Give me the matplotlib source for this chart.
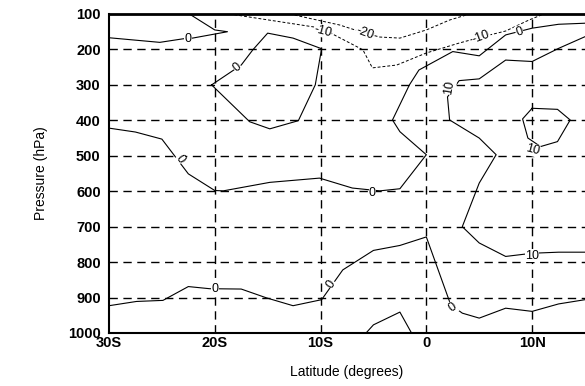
import matplotlib
matplotlib.use("Agg")
import matplotlib.pyplot as plt

plt.rcParams['font.family'] = ['Liberation Sans', 'DejaVu Sans']

lat_ticks = [-30, -20, -10, 0, 10]
lat_labels = ['30S', '20S', '10S', '0', '10N']
p_ticks = [100, 200, 300, 400, 500, 600, 700, 800, 900, 1000]

# contour lines: (latitude, pressure)
zero_top_lat = [-30.0, -25.2, -23.0, -22.1, -18.8, -20.0, -22.4]
zero_top_p = [167, 180, 170, 168, 150, 145, 100]

zero_loop_lat = [-20.3, -17.5, -16.4, -15.0, -12.6, -9.9, -10.5, -12.1, -14.8, -16.7, -20.3]
zero_loop_p = [300, 244, 201, 154, 168, 198, 300, 401, 424, 404, 300]

zero_mid_lat = [-30.0, -27.5, -25.0, -22.5, -20.0, -19.2, -14.8, -10.1, -7.0, -4.4, -2.5, 0.0,
                -2.5, -3.2, -1.6, -0.7, 2.5, 5.0, 7.5, 10.0, 12.5, 15.0]
zero_mid_p = [422, 433, 453, 551, 598, 599, 575, 563, 591, 599, 593, 497,
              432, 399, 300, 258, 206, 218, 159, 140, 129, 126]

zero_low_lat = [-30.0, -27.4, -24.9, -22.5, -20.5, -17.5, -15.1, -12.6, -9.9, -7.9, -5.0, -2.5, 0.0,
                2.3, 3.4, 5.0, 7.5, 10.0, 12.5, 15.0]
zero_low_p = [923, 911, 908, 869, 875, 876, 901, 923, 906, 822, 767, 753, 729,
              920, 944, 958, 930, 939, 918, 906]

zero_bump_lat = [-5.7, -5.0, -2.5, -1.4]
zero_bump_p = [1000, 977, 941, 1000]

ten_lat = [15.0, 12.5, 10.0, 7.5, 5.0, 3.1, 2.0, 2.2, 5.0, 6.6, 5.0, 3.4, 5.0, 7.5, 10.0, 12.5, 15.0]
ten_p = [164, 197, 234, 230, 283, 288, 334, 399, 450, 497, 577, 700, 746, 784, 775, 772, 772]

ten_loop_lat = [10.0, 12.4, 13.6, 12.4, 10.8, 9.6, 9.1, 10.0]
ten_loop_p = [366, 369, 399, 460, 474, 450, 396, 366]

m10_lat = [-18.6, -10.1, -8.9, -6.0, -5.1, -2.8, 0.0, 3.1, 5.2, 7.5, 9.7, 11.1]
m10_p = [100, 139, 156, 201, 252, 244, 210, 182, 165, 148, 117, 100]

m20_lat = [-12.9, -8.2, -5.8, -4.4, -2.5, 0.0, 2.2, 4.1]
m20_p = [100, 131, 154, 165, 168, 145, 117, 100]

solid_lines = [(zero_top_lat, zero_top_p), (zero_loop_lat, zero_loop_p),
               (zero_mid_lat, zero_mid_p), (zero_low_lat, zero_low_p),
               (zero_bump_lat, zero_bump_p), (ten_lat, ten_p), (ten_loop_lat, ten_loop_p)]
dashed_lines = [(m10_lat, m10_p), (m20_lat, m20_p)]

# contour labels: text, latitude, pressure, angle
label_text = ['0', '0', '0', '0', '0', '0', '0', '0', '10', '10', '10', '-10', '-10', '-20']
label_lat = [-22.5, -17.9, -23.3, -5.1, 8.8, -20.0, -9.0, 2.5, 2.2, 10.0, 10.0, -9.8, 5.2, -5.8]
label_p = [170, 250, 510, 606, 150, 877, 862, 928, 307, 782, 483, 148, 165, 154]
label_rot = [0, 40, -55, 0, 20, 0, 55, 35, 80, 0, -15, -15, 20, -20]

fig = plt.figure(figsize=(5.85, 3.86), dpi=100)
ax = fig.add_axes([109 / 585, 1 - 333 / 386, 476 / 585, 319 / 386])

for x, y in solid_lines:
    ax.plot(x, y, color='black', lw=0.8, zorder=3)
for x, y in dashed_lines:
    ax.plot(x, y, color='black', lw=0.7, ls=(0, (3, 2)), zorder=3)

for t, x, y, r in zip(label_text, label_lat, label_p, label_rot):
    ax.text(x, y, t, rotation=r, ha='center', va='center', fontsize=9, zorder=5,
            rotation_mode='anchor',
            bbox=dict(facecolor='white', edgecolor='none', pad=0.3))

for x in lat_ticks[1:]:
    ax.axvline(x, color='black', lw=1.0, ls=(0, (6, 4)), zorder=1)
for y in p_ticks[1:-1]:
    ax.axhline(y, color='black', lw=1.0, ls=(0, (6, 4)), zorder=1)

ax.set_xlim(-30, 15)
ax.set_ylim(1000, 100)
ax.set_xticks(lat_ticks)
ax.set_xticklabels(lat_labels)
ax.set_yticks(p_ticks)
ax.tick_params(axis='x', length=0, labelsize=10.5, pad=2)
ax.tick_params(axis='y', length=0, labelsize=10.5, pad=6)
for lab in ax.get_xticklabels() + ax.get_yticklabels():
    lab.set_fontweight('bold')

ax.spines['right'].set_visible(False)
ax.spines['top'].set_linewidth(2.0)
ax.spines['left'].set_linewidth(1.5)
ax.spines['bottom'].set_linewidth(1.5)

ax.set_xlabel('Latitude (degrees)', fontsize=10, labelpad=11)
ax.set_ylabel('Pressure (hPa)', fontsize=10, labelpad=14)

fig.savefig('out.png', dpi=100)
